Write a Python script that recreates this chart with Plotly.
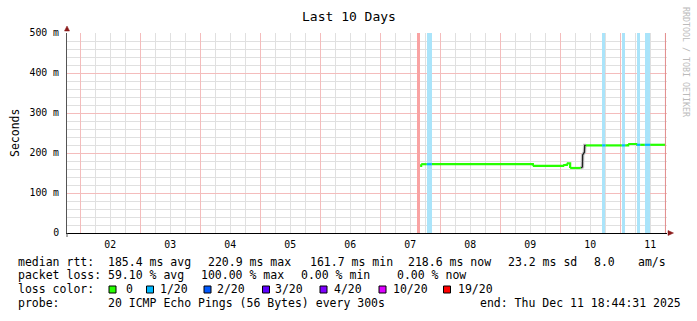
import plotly.graph_objects as go
import pandas as pd

# ---------------- data ----------------
title_text = "Last 10 Days"
range_start = "2025-12-01 18:44:31"
range_end = "2025-12-11 18:44:31"

# median rtt (ms) per interval, interval edges in time
t_edges = ["2025-12-07 16:00", "2025-12-07 16:24", "2025-12-07 18:40", "2025-12-07 20:40",
           "2025-12-09 13:05", "2025-12-10 01:12", "2025-12-10 02:40", "2025-12-10 04:00",
           "2025-12-10 08:15", "2025-12-10 10:17", "2025-12-10 16:48", "2025-12-10 18:07",
           "2025-12-11 00:41", "2025-12-11 02:00", "2025-12-11 03:12", "2025-12-11 06:24",
           "2025-12-11 06:41", "2025-12-11 08:00", "2025-12-11 09:53", "2025-12-11 12:00",
           "2025-12-11 18:07"]
median_ms = [168, 172, 172, 172, 168, 170, 174, 162.5, None, 219, 219, 219, 219, 219,
             222.5, 220.5, 220.5, 220.5, 220.5, 220.5]
loss_level = [0, 0, 1, 0, 0, 0, 0, 0, None, 0, 1, 0, 1, 0, 0, 0, 1, 0, 1, 0]

# transition smoke (dark) between the low and high plateau
smoke_t = ["2025-12-10 08:15", "2025-12-10 08:55", "2025-12-10 09:00", "2025-12-10 09:43",
           "2025-12-10 09:50", "2025-12-10 10:17"]
smoke_ms = [162.5, 165, 195, 202, 219, 219]

# loss background bars
lossbar_start = ["2025-12-07 14:41", "2025-12-07 18:40", "2025-12-10 16:48",
                 "2025-12-11 00:41", "2025-12-11 06:41", "2025-12-11 09:53"]
lossbar_end = ["2025-12-07 16:00", "2025-12-07 20:40", "2025-12-10 18:07",
               "2025-12-11 02:00", "2025-12-11 08:00", "2025-12-11 12:00"]
lossbar_level = [19, 1, 1, 1, 1, 1]

loss_line_colors = {0: "#26ff00", 1: "#00b8ff"}
loss_bar_colors = {1: "#aae4fa", 19: "#f9a3a3"}

legend_labels = ["0", "1/20", "2/20", "3/20", "4/20", "10/20", "19/20"]
legend_colors = ["#26ff00", "#00b8ff", "#0059ff", "#5e00ff", "#7e00ff", "#dd00ff", "#ff0000"]

y_tickvals = [0, 100, 200, 300, 400, 500]
y_ticktext = ["0", "100 m", "200 m", "300 m", "400 m", "500 m"]

stats_rtt = [("median rtt:", 16), ("185.4 ms avg", 106), ("220.9 ms max", 206),
             ("161.7 ms min", 307.5), ("218.6 ms now", 405.5), ("23.2 ms sd", 505.5),
             ("8.0", 591.5), ("am/s", 635.5)]
stats_loss = [("packet loss:", 16), ("59.10 % avg", 106), ("100.00 % max", 199),
              ("0.00 % min", 298.5), ("0.00 % now", 395)]
probe_line = [("probe:", 16), ("20 ICMP Echo Pings (56 Bytes) every 300s", 106),
              ("end: Thu Dec 11 18:44:31 2025", 477.5)]

# ---------------- geometry ----------------
W, H = 697, 321
L, R, T, B = 67, 30, 33, 88
PW, PH = W - L - R, H - T - B
MONO = "DejaVu Sans Mono"
FS = 11.5


def px(x):
    return (x - L) / PW


def py(y):
    return (T + PH - y) / PH


def nb(s):
    return s.replace(" ", "\u00a0")


fig = go.Figure()

# loss bars
ls = pd.to_datetime(pd.Series(lossbar_start))
le = pd.to_datetime(pd.Series(lossbar_end))
centers = ls + (le - ls) / 2
widths = (le - ls).dt.total_seconds() * 1000
fig.add_trace(go.Bar(
    x=list(centers), y=[500] * len(ls), width=list(widths), base=0,
    marker=dict(color=[loss_bar_colors[l] for l in lossbar_level], line=dict(width=0)),
    hoverinfo="skip", showlegend=False))

# smoke / transition
fig.add_trace(go.Scatter(x=smoke_t, y=smoke_ms, mode="lines",
                         line=dict(color="#c8c8c8", width=3.5), hoverinfo="skip", showlegend=False))
fig.add_trace(go.Scatter(x=smoke_t, y=smoke_ms, mode="lines",
                         line=dict(color="#222222", width=1.3), hoverinfo="skip", showlegend=False))

# median line coloured by loss
for lvl, col in loss_line_colors.items():
    xs, ys = [], []
    for i, v in enumerate(median_ms):
        if v is None or loss_level[i] != lvl:
            continue
        xs += [t_edges[i], t_edges[i + 1]]
        ys += [v, v]
        if i + 1 < len(median_ms) and median_ms[i + 1] is not None:
            xs.append(t_edges[i + 1])
            ys.append(median_ms[i + 1])
        xs.append(None)
        ys.append(None)
    fig.add_trace(go.Scatter(x=xs, y=ys, mode="lines", line=dict(color=col, width=2.2),
                             hoverinfo="skip", showlegend=False))

shapes = []
# right end marker line
shapes.append(dict(type="line", xref="x", yref="paper", x0=t_edges[-1], x1=t_edges[-1],
                   y0=0, y1=1, line=dict(color="#e38c8c", width=1)))
# axis arrows
ac = "#8b1a1a"
shapes.append(dict(type="path", xref="paper", yref="paper",
                   path=f"M {px(64.5)} {py(31)} L {px(69.5)} {py(31)} L {px(67)} {py(26)} Z",
                   fillcolor=ac, line=dict(color=ac, width=0.5)))
shapes.append(dict(type="path", xref="paper", yref="paper",
                   path=f"M {px(668)} {py(230.5)} L {px(668)} {py(235.5)} L {px(673.5)} {py(233)} Z",
                   fillcolor=ac, line=dict(color=ac, width=0.5)))
# y-axis line extension below the x axis
shapes.append(dict(type="line", xref="paper", yref="paper", x0=0, x1=0, y0=py(233), y1=py(237),
                   line=dict(color="#555555", width=1)))

annotations = []
annotations.append(dict(text=title_text, x=px(349), y=py(16), xref="paper", yref="paper",
                        showarrow=False, xanchor="center", yanchor="middle",
                        font=dict(family=MONO, size=13, color="#000000")))
annotations.append(dict(text="Seconds", x=px(15), y=py(133), xref="paper", yref="paper",
                        showarrow=False, textangle=-90, xanchor="center", yanchor="middle",
                        font=dict(family=MONO, size=FS, color="#000000")))
annotations.append(dict(text=nb("RRDTOOL / TOBI OETIKER"), x=px(686), y=py(62), xref="paper",
                        yref="paper", showarrow=False, textangle=90, xanchor="center",
                        yanchor="middle", font=dict(family=MONO, size=8.3, color="#bbbbbb")))


def add_line(items, ycen):
    for txt, x in items:
        annotations.append(dict(text=nb(txt), x=px(x), y=py(ycen), xref="paper", yref="paper",
                                showarrow=False, xanchor="left", yanchor="middle",
                                font=dict(family=MONO, size=FS, color="#000000")))


add_line(stats_rtt, 261.7)
add_line(stats_loss, 275.3)
add_line([("loss color:", 16)], 289.3)
add_line(probe_line, 302.7)

sw_x = [109, 146.5, 204, 262.5, 320, 379, 443.5]
lab_x = [124, 158, 215, 273, 332, 391, 456]
for lab, col, sx, lx in zip(legend_labels, legend_colors, sw_x, lab_x):
    shapes.append(dict(type="rect", xref="paper", yref="paper", x0=px(sx), x1=px(sx + 7),
                       y0=py(293), y1=py(286), fillcolor=col, line=dict(color="#000000", width=1)))
    annotations.append(dict(text=lab, x=px(lx), y=py(289.3), xref="paper", yref="paper",
                            showarrow=False, xanchor="left", yanchor="middle",
                            font=dict(family=MONO, size=FS, color="#000000")))

fig.update_layout(
    width=W, height=H, autosize=False,
    margin=dict(l=L, r=R, t=T, b=B, pad=0),
    paper_bgcolor="white", plot_bgcolor="white",
    barmode="overlay", bargap=0,
    shapes=shapes, annotations=annotations,
    font=dict(family=MONO, color="#000000"),
)
fig.update_xaxes(
    type="date", range=[range_start, range_end],
    tick0="2025-12-02", dtick=86400000, ticklabelmode="period", tickformat="%d",
    showgrid=True, gridcolor="#f4bcbc", gridwidth=1,
    minor=dict(dtick=6 * 3600 * 1000, tick0="2025-12-02", showgrid=True,
               gridcolor="#e0e0e0", gridwidth=1),
    showline=True, linecolor="#000000", linewidth=1, zeroline=False,
    ticks="", ticklabelstandoff=2,
    tickfont=dict(family=MONO, size=9.8, color="#000000"),
)
fig.update_yaxes(
    range=[0, 500], tickvals=y_tickvals, ticktext=y_ticktext,
    showgrid=True, gridcolor="#f4bcbc", gridwidth=1,
    minor=dict(dtick=20, showgrid=True, gridcolor="#e0e0e0", gridwidth=1),
    showline=True, linecolor="#555555", linewidth=1, zeroline=False,
    ticks="", ticklabelstandoff=5,
    tickfont=dict(family=MONO, size=9.8, color="#000000"),
)

fig.write_html("out.html")
